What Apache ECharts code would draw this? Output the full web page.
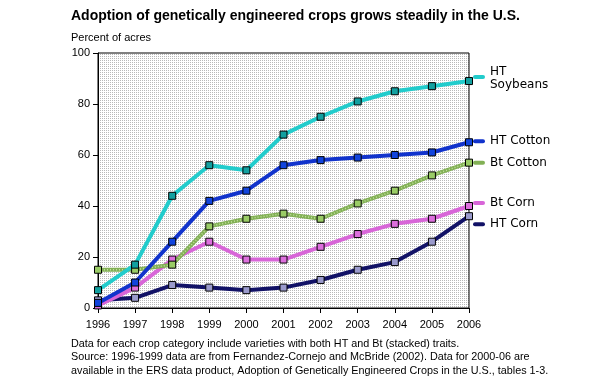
<!DOCTYPE html>
<html>
<head>
<meta charset="utf-8">
<script src="https://cdn.jsdelivr.net/npm/echarts@6/dist/echarts.min.js"></script>
<style>
html,body{margin:0;padding:0;background:#fff;}
#chart{width:600px;height:380px;}
</style>
</head>
<body>
<div id="chart"></div>
<script>
var years = ['1996','1997','1998','1999','2000','2001','2002','2003','2004','2005','2006'];
var htSoybeans = [7, 17, 44, 56, 54, 68, 75, 81, 85, 87, 89];
var htCotton   = [2, 10, 26, 42, 46, 56, 58, 59, 60, 61, 65];
var btCotton   = [15, 15, 17, 32, 35, 37, 35, 41, 46, 52, 57];
var btCorn     = [1, 8, 19, 26, 19, 19, 24, 29, 33, 35, 40];
var htCorn     = [3, 4, 9, 8, 7, 8, 11, 15, 18, 26, 36];
var yTicks = [0, 20, 40, 60, 80, 100];

var titleText = 'Adoption of genetically engineered crops grows steadily in the U.S.';
var unitText = 'Percent of acres';
var noteText = 'Data for each crop category include varieties with both HT and Bt (stacked) traits.\n' +
  'Source: 1996-1999 data are from Fernandez-Cornejo and McBride (2002). Data for 2000-06 are\n' +
  'available in the ERS data product, Adoption of Genetically Engineered Crops in the U.S., tables 1-3.';

// dotted background pattern
var pc = document.createElement('canvas');
pc.width = 2; pc.height = 2;
var pctx = pc.getContext('2d');
pctx.fillStyle = '#ffffff'; pctx.fillRect(0,0,2,2);
pctx.fillStyle = '#b8b8b8'; pctx.fillRect(0,0,1,1);

function labelRich(lineColor) {
  return {
    seg: { width: 12, height: 4, backgroundColor: lineColor, borderRadius: 2 },
    segb: { width: 12, height: 4, lineHeight: 15, backgroundColor: lineColor, borderRadius: 2, verticalAlign: 'bottom' },
    sp: { width: 12, height: 4 },
    t: { fontFamily: 'DejaVu Sans', fontSize: 12, color: '#000', padding: [0, 0, 0, 5], lineHeight: 11 }
  };
}

function mk(name, data, lineColor, markColor, labelFmt, offY) {
  return {
    name: name,
    type: 'line',
    data: data,
    clip: false,
    symbol: 'rect',
    symbolSize: 7,
    lineStyle: { color: lineColor, width: 4 },
    itemStyle: { color: markColor, borderColor: '#000', borderWidth: 1 },
    emphasis: { disabled: true },
    endLabel: {
      show: true,
      distance: 4,
      offset: [0, offY],
      formatter: labelFmt,
      rich: labelRich(lineColor)
    }
  };
}

var btCottonBase = mk('Bt Cotton', btCotton, '#82b055', '#9acc66', '{seg|}{t|Bt Cotton}', 0);
btCottonBase.symbol = 'none';
var btCottonTexture = {
  name: 'Bt Cotton texture',
  type: 'line',
  data: btCotton,
  clip: false,
  symbol: 'rect',
  symbolSize: 7,
  lineStyle: { color: '#c4e2a0', width: 1.5, type: [1, 2] },
  itemStyle: { color: '#9acc66', borderColor: '#000', borderWidth: 1 },
  emphasis: { disabled: true }
};

var chart = echarts.init(document.getElementById('chart'), null, { renderer: 'canvas' });
chart.setOption({
  animation: false,
  backgroundColor: '#fff',
  title: [
    { text: titleText, left: 71, top: 9, padding: 0,
      textStyle: { fontFamily: 'Liberation Sans', fontWeight: 'bold', fontSize: 14, color: '#000' } },
    { text: unitText, left: 71, top: 32, padding: 0,
      textStyle: { fontFamily: 'Liberation Sans', fontWeight: 'normal', fontSize: 11, color: '#000' } },
    { text: noteText, left: 71, top: 337, padding: 0,
      textStyle: { fontFamily: 'Liberation Sans', fontWeight: 'normal', fontSize: 10.8, color: '#000', lineHeight: 13.5 } }
  ],
  grid: {
    left: 98, right: 131, top: 53, bottom: 72,
    show: true,
    backgroundColor: { image: pc, repeat: 'repeat' },
    borderColor: '#000', borderWidth: 1
  },
  xAxis: {
    type: 'category',
    data: years,
    boundaryGap: false,
    axisLine: { lineStyle: { color: '#000', width: 1 } },
    axisTick: { show: true, length: 5, lineStyle: { color: '#000' } },
    axisLabel: { fontFamily: 'Liberation Sans', fontSize: 11, color: '#000', margin: 11 },
    splitLine: { show: false }
  },
  yAxis: {
    type: 'value',
    min: yTicks[0], max: yTicks[yTicks.length - 1], interval: 20,
    axisLine: { show: true, lineStyle: { color: '#000', width: 1 } },
    axisTick: { show: true, length: 5, lineStyle: { color: '#000' } },
    axisLabel: { fontFamily: 'Liberation Sans', fontSize: 11, color: '#000', margin: 8 },
    splitLine: { show: false }
  },
  series: [
    mk('HT Corn', htCorn, '#121266', '#9a9acc', '{seg|}{t|HT Corn}', 8),
    mk('Bt Corn', btCorn, '#d865d8', '#dd6fdd', '{seg|}{t|Bt Corn}', -3),
    btCottonBase,
    btCottonTexture,
    mk('HT Cotton', htCotton, '#1133cc', '#1144dd', '{seg|}{t|HT Cotton}', -1),
    mk('HT Soybeans', htSoybeans, '#22cccc', '#12a0a0', '{segb|}{t|HT}\n{sp|}{t|Soybeans}', -4)
  ]
});
</script>
</body>
</html>
